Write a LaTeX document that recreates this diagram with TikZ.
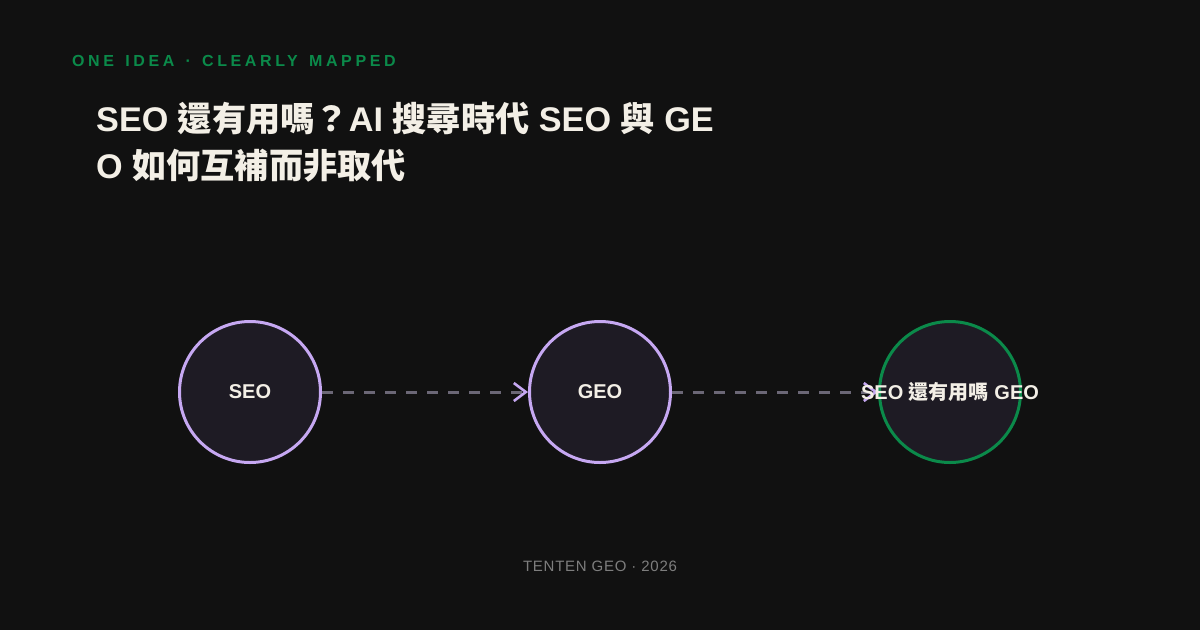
\documentclass[tikz,border=0pt]{standalone}
\usepackage{fontspec}
\setmainfont{Liberation Sans}
\newfontfamily\cjk{Noto Sans CJK TC}
\newfontfamily\spaced{Liberation Sans}[LetterSpace=22.5, WordSpace=1.4]
\newfontfamily\footfont{Liberation Sans}[LetterSpace=5]
\usetikzlibrary{arrows.meta}
\definecolor{bg}{HTML}{111111}
\definecolor{cream}{HTML}{F3EFE6}
\definecolor{kickgreen}{HTML}{0B8A4A}
\definecolor{lilac}{HTML}{C6A8F2}
\definecolor{nodefill}{HTML}{1E1B24}
\definecolor{dashgray}{HTML}{6B6776}
\definecolor{footgray}{HTML}{7E7E7E}
\tikzset{
  circ/.style={circle, minimum size=141pt, inner sep=0pt, line width=3pt, fill=nodefill},
  lab/.style={inner sep=0pt, text=cream, font=\bfseries\fontsize{20}{20}\selectfont},
  edgeline/.style={draw=dashgray, line width=3pt, dash pattern=on 10.5pt off 10.5pt,
    -{Straight Barb[length=12pt, width=18pt, line width=2.6pt, color=lilac]}},
}
\begin{document}
\begin{tikzpicture}[x=1pt,y=-1pt]
\fill[bg] (0,0) rectangle (1200,630);
\useasboundingbox (0,0) rectangle (1200,630);

\node[anchor=base west, inner sep=0pt, text=kickgreen, font=\spaced\bfseries\fontsize{16}{16}\selectfont] (kicker) at (72,66) {ONE IDEA · CLEARLY MAPPED};

\node[anchor=base west, inner sep=0pt, text=cream, font=\bfseries\fontsize{34.2}{34.2}\selectfont] (t1) at (96,131) {SEO {\cjk 還有用嗎？}AI {\cjk 搜尋時代} SEO {\cjk 與} GE};
\node[anchor=base west, inner sep=0pt, text=cream, font=\bfseries\fontsize{34.2}{34.2}\selectfont] (t2) at (96,178) {O {\cjk 如何互補而非取代}};

\node[circ, draw=lilac] (seo) at (250,392) {};
\node[circ, draw=lilac] (geo) at (600,392) {};
\node[circ, draw=kickgreen] (res) at (950,392) {};

\draw[edgeline] (seo) -- (geo);
\draw[edgeline] (geo) -- (res);

\node[lab] (seolab) at (seo) {SEO};
\node[lab] (geolab) at (geo) {GEO};
\node[lab] (reslab) at (res) {SEO {\cjk 還有用嗎} GEO};

\node[anchor=base, inner sep=0pt, text=footgray, font=\footfont\fontsize{15}{15}\selectfont] (foot) at (600,571) {TENTEN GEO · 2026};
\end{tikzpicture}
\end{document}
